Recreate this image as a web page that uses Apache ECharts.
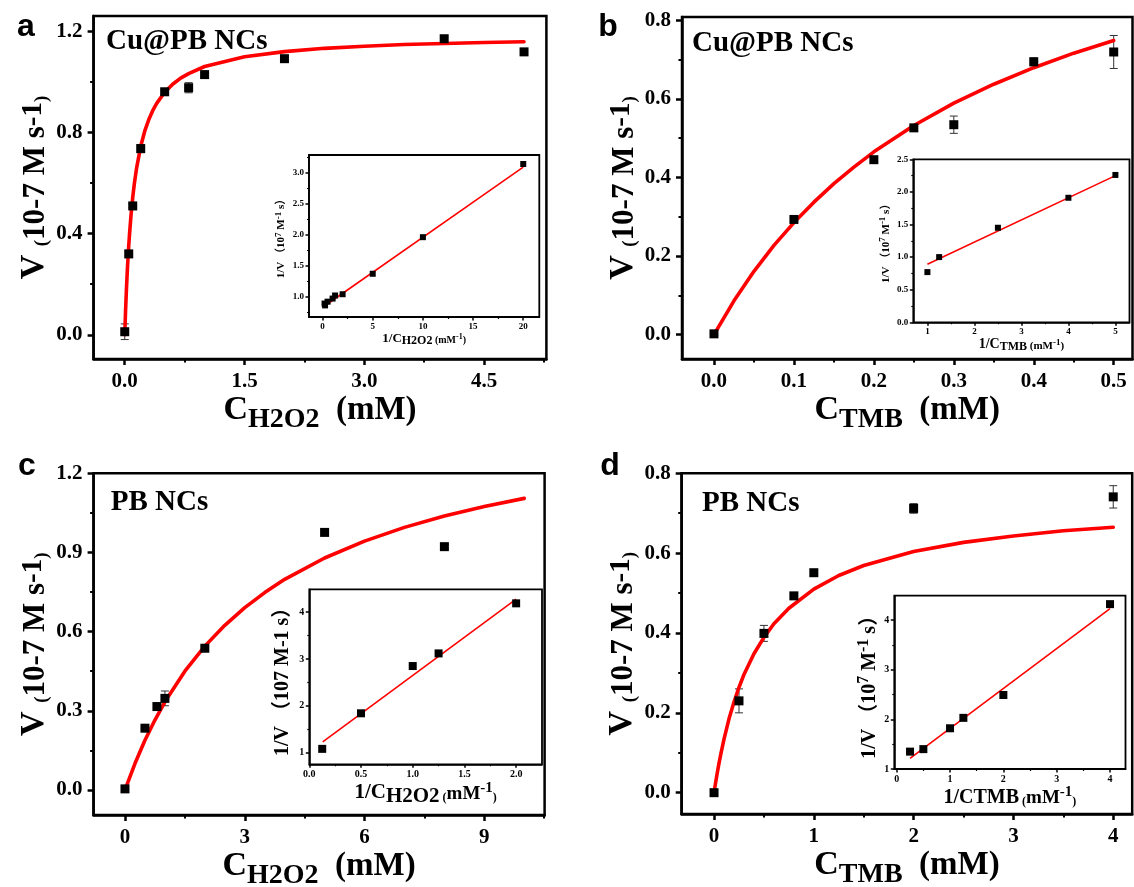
<!DOCTYPE html>
<html>
<head>
<meta charset="utf-8">
<script src="https://cdn.jsdelivr.net/npm/echarts@6/dist/echarts.min.js"></script>
<style>
  html, body { margin: 0; padding: 0; background: #fff; }
  #chart { width: 1134px; height: 887px; }
</style>
</head>
<body>
<div id="chart"></div>
<script>
// ---------- (a) Cu@PB NCs, H2O2 varied ----------
const aConc = [0, 0.05, 0.1, 0.2, 0.5, 0.8, 1.0, 2.0, 4.0, 5.0];
const aRate = [0.012, 0.32, 0.51, 0.737, 0.962, 0.978, 1.03, 1.093, 1.172, 1.12];
const aErr  = [0.031, 0.014, 0.008, 0.016, 0.006, 0.02, 0.008, 0.006, 0.008, 0.006];
const aFitConc = [0, 0.01, 0.02, 0.03, 0.04, 0.05, 0.06, 0.08, 0.1, 0.12, 0.15, 0.2, 0.25, 0.3, 0.35, 0.4, 0.5, 0.6, 0.7, 0.8, 1.0, 1.5, 2.0, 2.5, 3.0, 3.5, 4.0, 4.5, 5.0];
const aFitRate = [0, 0.092, 0.172, 0.240, 0.300, 0.352, 0.399, 0.479, 0.544, 0.598, 0.663, 0.746, 0.806, 0.851, 0.887, 0.916, 0.960, 0.992, 1.016, 1.034, 1.062, 1.101, 1.121, 1.134, 1.142, 1.149, 1.153, 1.157, 1.160];
const aInvConc = [0.2, 0.25, 0.5, 1.0, 1.25, 2.0, 5.0, 10, 20];
const aInvRate = [0.89, 0.86, 0.92, 0.97, 1.02, 1.04, 1.37, 1.96, 3.14];
const aInvFitConc = [0.2, 20];
const aInvFitRate = [0.85, 3.09];

// ---------- (b) Cu@PB NCs, TMB varied ----------
const bConc = [0, 0.1, 0.2, 0.25, 0.3, 0.4, 0.5];
const bRate = [0.002, 0.293, 0.445, 0.526, 0.534, 0.694, 0.719];
const bErr  = [0.004, 0.006, 0.006, 0.006, 0.022, 0.01, 0.042];
const bFitConc = [0, 0.025, 0.05, 0.075, 0.1, 0.125, 0.15, 0.175, 0.2, 0.25, 0.3, 0.35, 0.4, 0.45, 0.5];
const bFitRate = [0, 0.086, 0.161, 0.227, 0.285, 0.337, 0.384, 0.426, 0.465, 0.532, 0.589, 0.637, 0.679, 0.716, 0.748];
const bInvConc = [1, 1.25, 2.5, 4, 5];
const bInvRate = [0.77, 1.0, 1.45, 1.91, 2.26];
const bInvFitConc = [1, 5];
const bInvFitRate = [0.89, 2.25];

// ---------- (c) PB NCs, H2O2 varied ----------
const cConc = [0, 0.5, 0.8, 1.0, 2.0, 5.0, 8.0];
const cRate = [0.004, 0.234, 0.316, 0.347, 0.537, 0.976, 0.922];
const cErr  = [0.004, 0.006, 0.01, 0.028, 0.008, 0.006, 0.008];
const cFitConc = [0, 0.25, 0.5, 0.75, 1, 1.5, 2, 2.5, 3, 3.5, 4, 5, 6, 7, 8, 9, 10];
const cFitRate = [0, 0.100, 0.188, 0.265, 0.334, 0.450, 0.545, 0.624, 0.691, 0.748, 0.798, 0.879, 0.943, 0.995, 1.038, 1.074, 1.105];
const cInvConc = [0.125, 0.5, 1.0, 1.25, 2.0];
const cInvRate = [1.08, 1.84, 2.85, 3.12, 4.19];
const cInvFitConc = [0.13, 2.0];
const cInvFitRate = [1.23, 4.28];

// ---------- (d) PB NCs, TMB varied ----------
const dConc = [0, 0.25, 0.5, 0.8, 1.0, 2.0, 4.0];
const dRate = [0.0, 0.23, 0.399, 0.493, 0.551, 0.712, 0.741];
const dErr  = [0.004, 0.03, 0.02, 0.006, 0.008, 0.012, 0.028];
const dFitConc = [0, 0.01, 0.02, 0.03, 0.05, 0.07, 0.1, 0.15, 0.2, 0.25, 0.3, 0.4, 0.5, 0.6, 0.75, 1, 1.25, 1.5, 2, 2.5, 3, 3.5, 4];
const dFitRate = [0, 0.016, 0.031, 0.046, 0.074, 0.099, 0.134, 0.185, 0.227, 0.264, 0.296, 0.348, 0.389, 0.423, 0.462, 0.510, 0.544, 0.569, 0.604, 0.627, 0.643, 0.656, 0.665];
const dInvConc = [0.25, 0.5, 1.0, 1.25, 2.0, 4.0];
const dInvRate = [1.35, 1.40, 1.82, 2.03, 2.49, 4.32];
const dInvFitConc = [0.25, 4.0];
const dInvFitRate = [1.215, 4.23];

// ---------- tick values ----------
const aTicksX = [0, 1.5, 3.0, 4.5],           aMinorX = [0.75, 2.25, 3.75, 5.25];
const aTicksY = [0, 0.4, 0.8, 1.2],           aMinorY = [0.2, 0.6, 1.0];
const bTicksX = [0, 0.1, 0.2, 0.3, 0.4, 0.5], bMinorX = [0.05, 0.15, 0.25, 0.35, 0.45];
const bTicksY = [0, 0.2, 0.4, 0.6, 0.8],      bMinorY = [0.1, 0.3, 0.5, 0.7];
const cTicksX = [0, 3, 6, 9],                 cMinorX = [1.5, 4.5, 7.5, 10.5];
const cTicksY = [0, 0.3, 0.6, 0.9, 1.2],      cMinorY = [0.15, 0.45, 0.75, 1.05];
const dTicksX = [0, 1, 2, 3, 4],              dMinorX = [0.5, 1.5, 2.5, 3.5];
const dTicksY = [0, 0.2, 0.4, 0.6, 0.8],      dMinorY = [0.1, 0.3, 0.5, 0.7];
const aInvTicksX = [0, 5, 10, 15, 20],        aInvMinorX = [2.5, 7.5, 12.5, 17.5];
const aInvTicksY = [1.0, 1.5, 2.0, 2.5, 3.0], aInvMinorY = [0.75, 1.25, 1.75, 2.25, 2.75, 3.25];
const bInvTicksX = [1, 2, 3, 4, 5],           bInvMinorX = [1.5, 2.5, 3.5, 4.5];
const bInvTicksY = [0, 0.5, 1.0, 1.5, 2.0, 2.5], bInvMinorY = [0.25, 0.75, 1.25, 1.75, 2.25];
const cInvTicksX = [0, 0.5, 1.0, 1.5, 2.0],   cInvMinorX = [0.25, 0.75, 1.25, 1.75];
const cInvTicksY = [1, 2, 3, 4],              cInvMinorY = [1.5, 2.5, 3.5];
const dInvTicksX = [0, 1, 2, 3, 4],           dInvMinorX = [0.5, 1.5, 2.5, 3.5];
const dInvTicksY = [1, 2, 3, 4],              dInvMinorY = [1.5, 2.5, 3.5];

// ---------- text styles ----------
const SERIF = '"Liberation Serif", "Times New Roman", "Noto Sans CJK SC", serif';
const t = (size, extra) => Object.assign({ fontFamily: SERIF, fontWeight: 'bold', fontSize: size, color: '#000', verticalAlign: 'bottom' }, extra || {});

// main x-axis titles: C with lowered subscript, then (mM)
const mainXRich = {
  c: t(34, { padding: [0, 0, 7, 0] }),
  s: t(28),
  m: t(33, { padding: [0, 0, 7, 0] })
};
// main y-axis title: V (10-7 M s-1)
const mainYRich = {
  v: t(34),
  p: t(19),
  n: t(31),
  u: t(29, { padding: [0, 0, 4, 0] })
};
const mainYName = '{v|V }{p|(}{n|10-7 M s}{u|-1}{p|)}';

function insetRich(big, sub, small, lower) {
  return {
    b: t(big, { padding: [0, 0, lower, 0] }),
    s: t(sub),
    q: t(small, { padding: [0, 0, lower, 0] }),
    u: t(Math.round(small * 0.8), { padding: [0, 0, lower + Math.round(small * 0.4), 0] })
  };
}

// ---------- panel layout ----------
const panels = [
  { // a
    rect: [93.6, 16, 452.8, 343], x: [-0.39, 5.28], y: [-0.096, 1.262],
    tx: aTicksX, mx: aMinorX, dx: 1, ty: aTicksY, my: aMinorY, dy: 1,
    xName: '{c|C}{s|H2O2}{m|  (mM)}',
    conc: aConc, rate: aRate, err: aErr, fx: aFitConc, fy: aFitRate,
    letter: 'a', letterPos: [26, 27], tag: 'Cu@PB NCs', tagPos: [106, 41.7],
    inset: {
      rect: [309, 155, 230.3, 162], x: [-1.35, 21.6], y: [0.673, 3.285],
      tx: aInvTicksX, mx: aInvMinorX, dx: 0, ty: aInvTicksY, my: aInvMinorY, dy: 1,
      xName: '{b|1/C}{s|H2O2}{q| (mM}{u|-1}{q|)}', xRich: insetRich(13, 12, 10, 2), xGap: 15,
      yName: '{b|1/V （10}{u|7}{b| M}{u|-1}{b| s）}', yRich: insetRich(11, 11, 11, 0), yGap: 22,
      fs: 9, sym: 6, conc: aInvConc, rate: aInvRate, fx: aInvFitConc, fy: aInvFitRate
    }
  },
  { // b
    rect: [682, 17, 450.5, 342], x: [-0.04, 0.5235], y: [-0.062, 0.808],
    tx: bTicksX, mx: bMinorX, dx: 1, ty: bTicksY, my: bMinorY, dy: 1,
    xName: '{c|C}{s|TMB}{m|  (mM)}',
    conc: bConc, rate: bRate, err: bErr, fx: bFitConc, fy: bFitRate,
    letter: 'b', letterPos: [608, 27], tag: 'Cu@PB NCs', tagPos: [692, 43.3],
    inset: {
      rect: [913.3, 159.3, 216.2, 163], x: [0.7, 5.3], y: [0, 2.5],
      tx: bInvTicksX, mx: bInvMinorX, dx: 0, ty: bInvTicksY, my: bInvMinorY, dy: 1,
      xName: '{b|1/C}{s|TMB}{q| (mM}{u|-1}{q|)}', xRich: insetRich(14, 12, 11, 2), xGap: 10,
      yName: '{b|1/V （10}{u|7}{b| M}{u|-1}{b| s）}', yRich: insetRich(11, 11, 11, 0), yGap: 22,
      fs: 9, sym: 6, conc: bInvConc, rate: bInvRate, fx: bInvFitConc, fy: bInvFitRate
    }
  },
  { // c
    rect: [93.6, 473.3, 451, 341.7], x: [-0.786, 10.51], y: [-0.095, 1.2],
    tx: cTicksX, mx: cMinorX, dx: 0, ty: cTicksY, my: cMinorY, dy: 1,
    xName: '{c|C}{s|H2O2}{m|  (mM)}',
    conc: cConc, rate: cRate, err: cErr, fx: cFitConc, fy: cFitRate,
    letter: 'c', letterPos: [27, 466], tag: 'PB NCs', tagPos: [110.7, 503],
    inset: {
      rect: [309.3, 589.3, 232.7, 175], x: [0, 2.25], y: [0.75, 4.49],
      tx: cInvTicksX, mx: cInvMinorX, dx: 1, ty: cInvTicksY, my: cInvMinorY, dy: 0,
      xName: '{b|1/C}{s|H2O2}{p| (}{q|mM}{u|-1}{p|)}',
      xRich: Object.assign(insetRich(21, 21, 19, 4), { p: t(12, { padding: [0, 0, 3, 0] }) }), xGap: 10,
      yName: '{b|1/V （107 M-1 s）}', yRich: insetRich(20, 20, 20, 0), yGap: 16,
      fs: 10, sym: 8, conc: cInvConc, rate: cInvRate, fx: cInvFitConc, fy: cInvFitRate
    }
  },
  { // d
    rect: [681.7, 473.3, 450.5, 340.7], x: [-0.324, 4.19], y: [-0.0534, 0.8],
    tx: dTicksX, mx: dMinorX, dx: 0, ty: dTicksY, my: dMinorY, dy: 1,
    xName: '{c|C}{s|TMB}{m|  (mM)}',
    conc: dConc, rate: dRate, err: dErr, fx: dFitConc, fy: dFitRate,
    letter: 'd', letterPos: [610, 466], tag: 'PB NCs', tagPos: [702, 503.3],
    inset: {
      rect: [894.3, 595.7, 231.2, 173.3], x: [-0.045, 4.29], y: [1, 4.49],
      tx: dInvTicksX, mx: dInvMinorX, dx: 0, ty: dInvTicksY, my: dInvMinorY, dy: 0,
      xName: '{b|1/CTMB}{p| (}{q|mM}{u|-1}{p|)}',
      xRich: Object.assign(insetRich(20, 20, 19, 0), { p: t(12) }), xGap: 8,
      yName: '{b|1/V （10}{u|7}{b| M}{u|-1}{b| s）}', yRich: insetRich(20, 20, 20, 0), yGap: 14,
      fs: 10, sym: 8, conc: dInvConc, rate: dInvRate, fx: dInvFitConc, fy: dInvFitRate
    }
  }
];

// ---------- builders ----------
const grids = [], xAxes = [], yAxes = [], series = [], graphics = [];

function axisPair(dim, gridIndex, range, major, minor, digits, o) {
  const base = {
    type: 'value', gridIndex, min: range[0], max: range[1],
    position: dim === 'x' ? 'bottom' : 'left', splitLine: { show: false }
  };
  const main = Object.assign({}, base, {
    axisLine: { show: true, onZero: false, lineStyle: { color: '#000', width: o.lw } },
    axisTick: { show: true, inside: false, length: o.tick, customValues: major, lineStyle: { color: '#000', width: o.lw } },
    axisLabel: {
      show: true, customValues: major, formatter: v => Number(v).toFixed(digits),
      fontFamily: SERIF, fontWeight: 'bold', fontSize: o.fs, color: '#000', margin: o.margin
    },
    name: o.name, nameLocation: 'middle', nameGap: o.gap,
    nameTextStyle: { rich: o.rich, fontFamily: SERIF, fontWeight: 'bold', color: '#000' }
  });
  // second axis on the same edge carrying only the short minor ticks
  const sub = Object.assign({}, base, {
    axisLine: { show: false, onZero: false },
    axisTick: { show: true, inside: false, length: o.minorLen, customValues: minor, lineStyle: { color: '#000', width: o.lw * 0.8 } },
    axisLabel: { show: false }
  });
  return [main, sub];
}

function renderErrorBar(params, api) {
  const x = api.value(0);
  const lo = api.coord([x, api.value(1)]);
  const hi = api.coord([x, api.value(2)]);
  const cap = 4;
  const st = { stroke: '#333', lineWidth: 1 };
  return {
    type: 'group',
    children: [
      { type: 'line', shape: { x1: lo[0], y1: lo[1], x2: hi[0], y2: hi[1] }, style: st },
      { type: 'line', shape: { x1: lo[0] - cap, y1: lo[1], x2: lo[0] + cap, y2: lo[1] }, style: st },
      { type: 'line', shape: { x1: hi[0] - cap, y1: hi[1], x2: hi[0] + cap, y2: hi[1] }, style: st }
    ]
  };
}

const zip = (xs, ys) => xs.map((x, i) => [x, ys[i]]);

function addGrid(rect, bw, bg) {
  grids.push({
    left: rect[0], top: rect[1], width: rect[2], height: rect[3],
    show: true, borderColor: '#000', borderWidth: bw, backgroundColor: bg,
    containLabel: false, outerBoundsMode: 'none'
  });
  return grids.length - 1;
}

panels.forEach(p => {
  // main plot
  const g = addGrid(p.rect, 2.5, 'transparent');
  xAxes.push(...axisPair('x', g, p.x, p.tx, p.mx, p.dx, {
    lw: 2.5, tick: 6, minorLen: 3.5, fs: 21, margin: 12,
    name: p.xName, rich: mainXRich, gap: 30
  }));
  yAxes.push(...axisPair('y', g, p.y, p.ty, p.my, p.dy, {
    lw: 2.5, tick: 6, minorLen: 3.5, fs: 21, margin: 11,
    name: mainYName, rich: mainYRich, gap: 42
  }));
  const ax = 2 * g;
  series.push({
    type: 'custom', xAxisIndex: ax, yAxisIndex: ax, renderItem: renderErrorBar,
    encode: { x: 0, y: [1, 2] }, z: 3,
    data: p.conc.map((c, i) => [c, p.rate[i] - p.err[i], p.rate[i] + p.err[i]])
  });
  series.push({
    type: 'line', xAxisIndex: ax, yAxisIndex: ax, data: zip(p.fx, p.fy),
    showSymbol: false, smooth: false, z: 4,
    lineStyle: { color: '#ff0000', width: 3.6, join: 'round', cap: 'round' }
  });
  series.push({
    type: 'scatter', xAxisIndex: ax, yAxisIndex: ax, data: zip(p.conc, p.rate),
    symbol: 'rect', symbolSize: 9, z: 5, itemStyle: { color: '#000', opacity: 1 }
  });

  // inset (double-reciprocal plot)
  const q = p.inset;
  const h = addGrid(q.rect, 1.8, '#fff');
  xAxes.push(...axisPair('x', h, q.x, q.tx, q.mx, q.dx, {
    lw: 1.5, tick: 3.5, minorLen: 2, fs: q.fs, margin: 5,
    name: q.xName, rich: q.xRich, gap: q.xGap
  }));
  yAxes.push(...axisPair('y', h, q.y, q.ty, q.my, q.dy, {
    lw: 1.5, tick: 3.5, minorLen: 2, fs: q.fs, margin: 5,
    name: q.yName, rich: q.yRich, gap: q.yGap
  }));
  const ix = 2 * h;
  series.push({
    type: 'line', xAxisIndex: ix, yAxisIndex: ix, data: zip(q.fx, q.fy),
    showSymbol: false, z: 6, lineStyle: { color: '#ff0000', width: 1.6 }
  });
  series.push({
    type: 'scatter', xAxisIndex: ix, yAxisIndex: ix, data: zip(q.conc, q.rate),
    symbol: 'rect', symbolSize: q.sym, z: 7, itemStyle: { color: '#000', opacity: 1 }
  });

  // panel letter and sample tag
  graphics.push({
    type: 'text', x: p.letterPos[0], y: p.letterPos[1], z: 10,
    style: { text: p.letter, font: 'bold 32px "Liberation Sans", Arial, sans-serif', fill: '#000', align: 'center', verticalAlign: 'middle' }
  });
  graphics.push({
    type: 'text', x: p.tagPos[0], y: p.tagPos[1], z: 10,
    style: { text: p.tag, font: 'bold 29px ' + SERIF, fill: '#000', align: 'left', verticalAlign: 'middle' }
  });
});

const chart = echarts.init(document.getElementById('chart'), null, { renderer: 'canvas' });
chart.setOption({
  animation: false,
  backgroundColor: '#fff',
  grid: grids,
  xAxis: xAxes,
  yAxis: yAxes,
  series: series,
  graphic: graphics
});
</script>
</body>
</html>
